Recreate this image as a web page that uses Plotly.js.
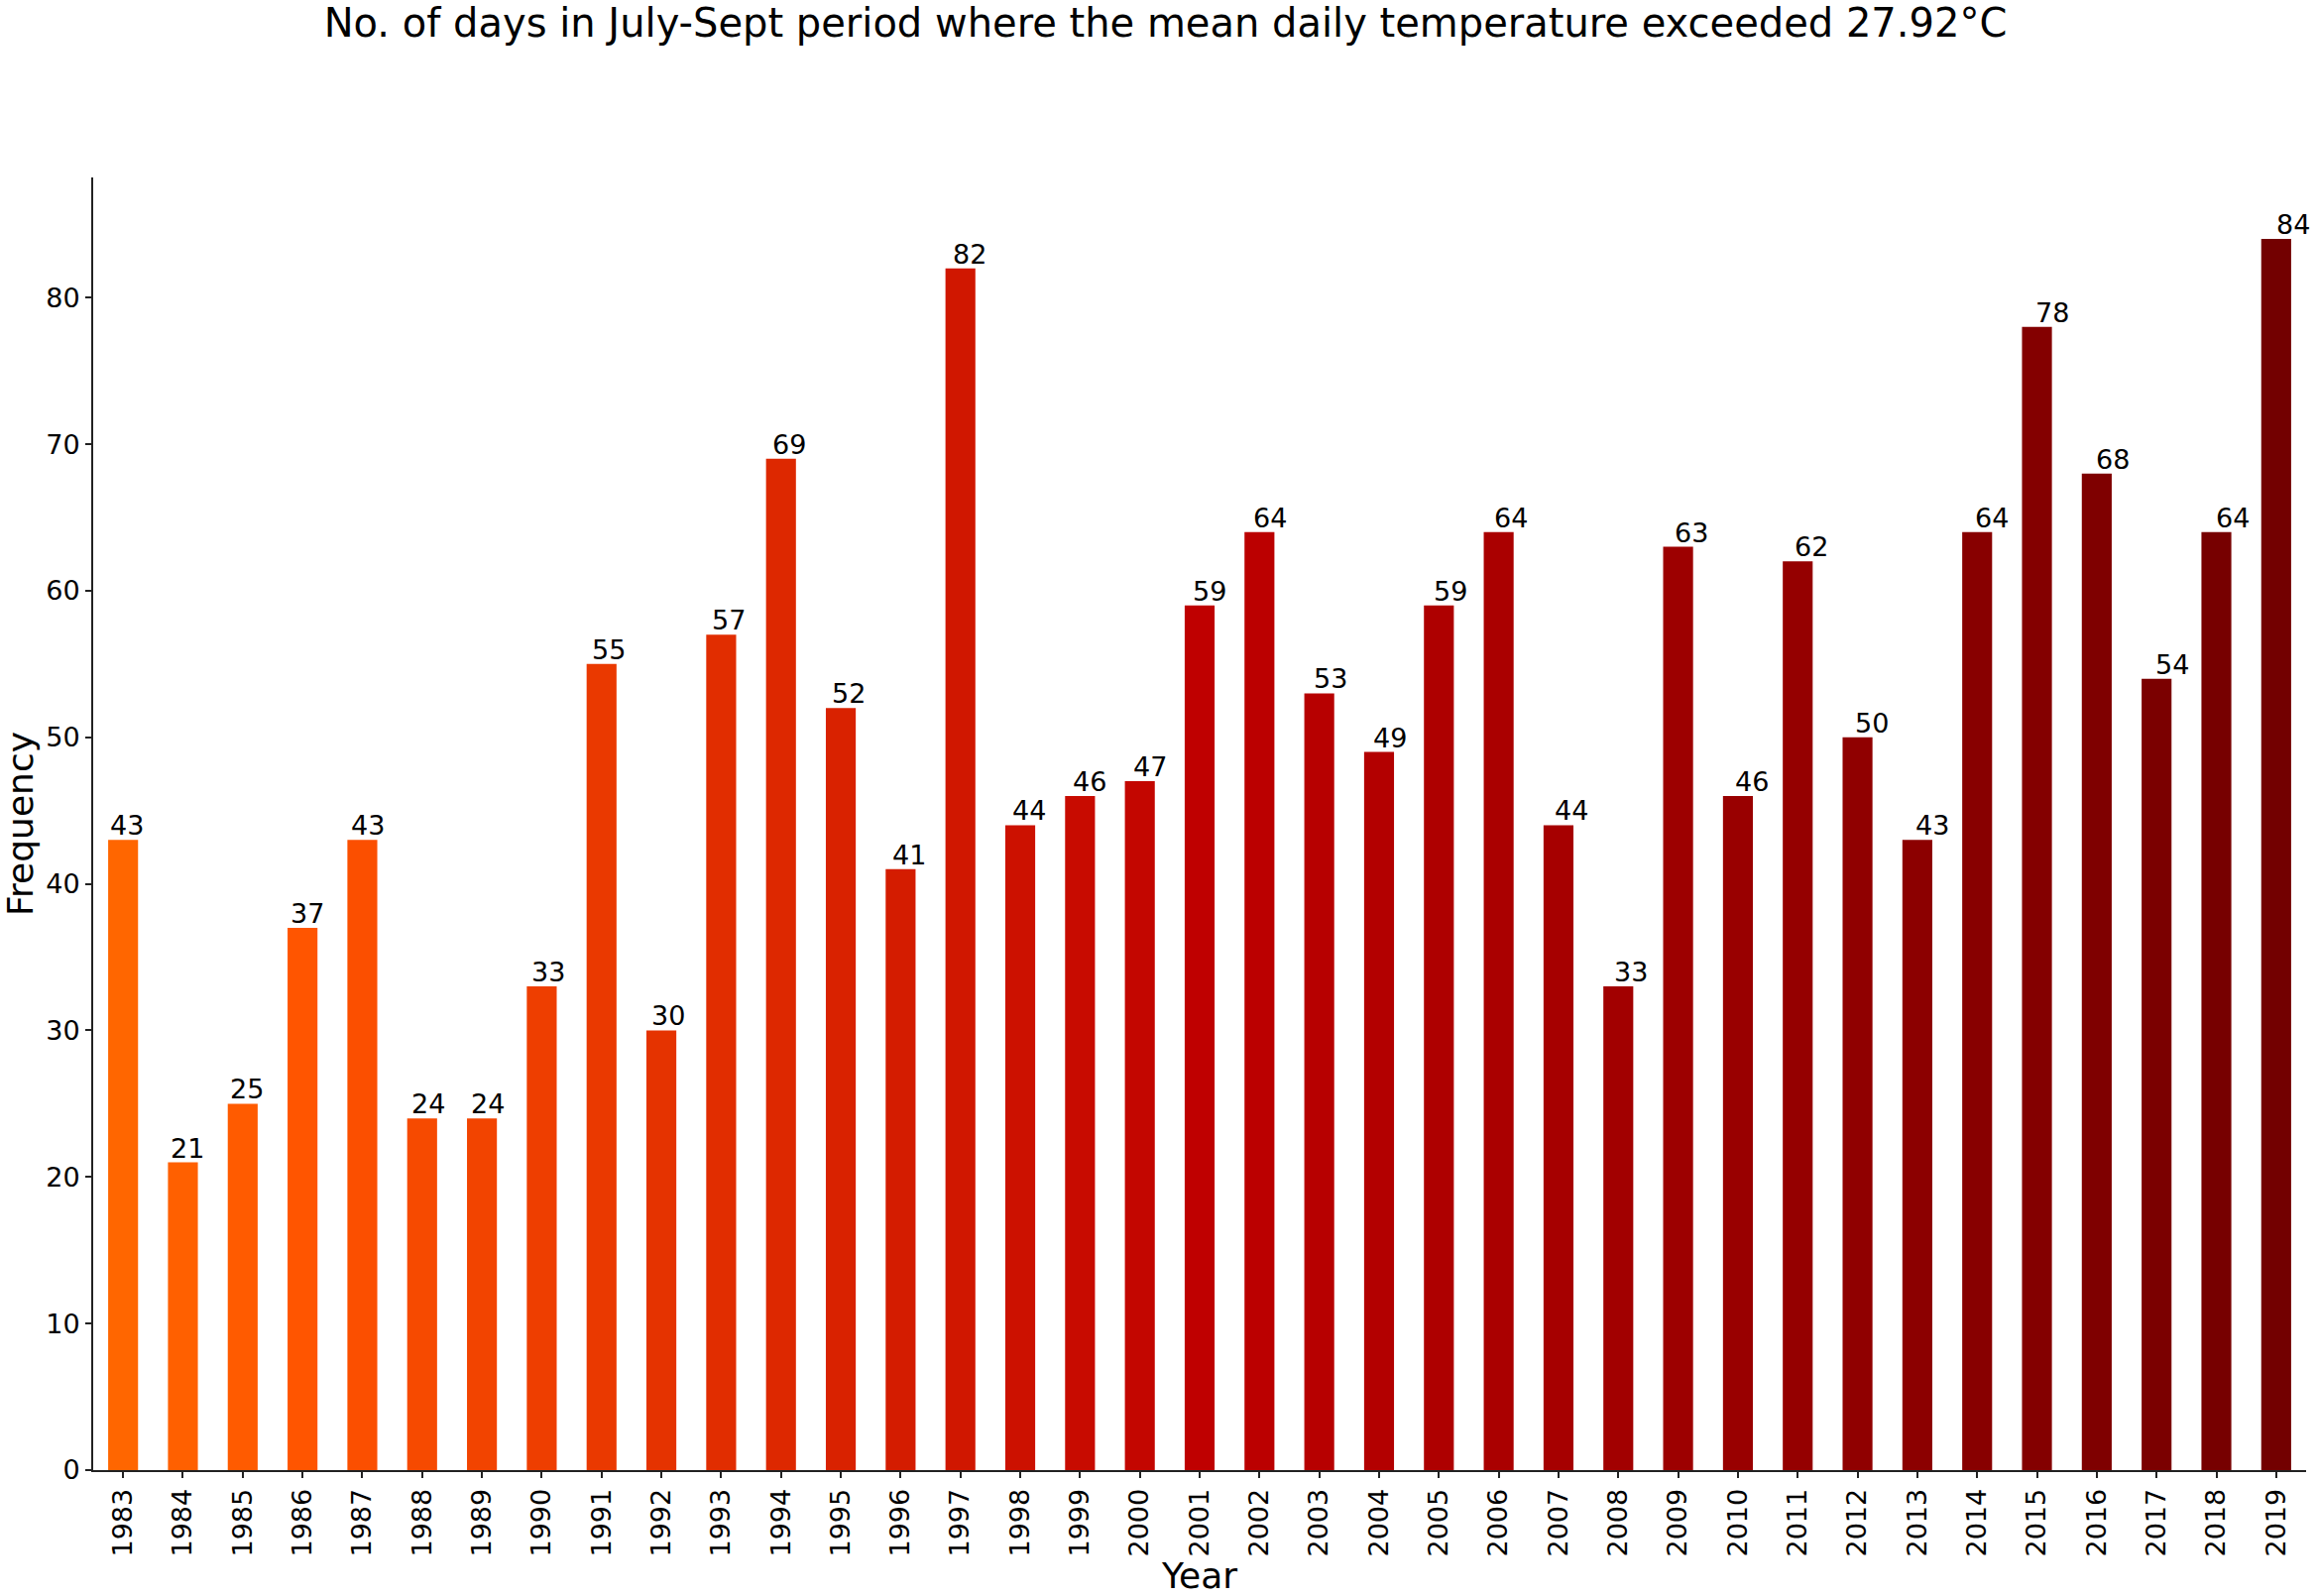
<!DOCTYPE html>
<html>
<head>
<meta charset="utf-8">
<script src="https://cdn.plot.ly/plotly-3.0.1.min.js"></script>
<style>html,body{margin:0;padding:0;background:#fff;}#chart{width:2337px;height:1610px;}</style>
</head>
<body>
<div id="chart"></div>
<script>
// ---- data ----
const years = [1983,1984,1985,1986,1987,1988,1989,1990,1991,1992,1993,1994,1995,1996,1997,1998,1999,2000,
               2001,2002,2003,2004,2005,2006,2007,2008,2009,2010,2011,2012,2013,2014,2015,2016,2017,2018,2019];
const frequency = [43,21,25,37,43,24,24,33,55,30,57,69,52,41,82,44,46,47,
                   59,64,53,49,59,64,44,33,63,46,62,50,43,64,78,68,54,64,84];
const yTicks = [0,10,20,30,40,50,60,70,80];
const titleText = 'No. of days in July-Sept period where the mean daily temperature exceeded 27.92°C';
const xLabel = 'Year';
const yLabel = 'Frequency';

// ---- colours: gist_heat colormap sampled from 0.7 down to 0.3 ----
function gistHeat(t) {
  const r = Math.max(0, Math.min(1, 1.5 * t));
  const g = Math.max(0, Math.min(1, 2 * t - 1));
  const b = Math.max(0, Math.min(1, 4 * t - 3));
  return 'rgb(' + Math.round(r * 255) + ',' + Math.round(g * 255) + ',' + Math.round(b * 255) + ')';
}
const n = years.length;
const colors = years.map((y, i) => gistHeat(0.7 - 0.4 * i / (n - 1)));

const font = 'DejaVu Sans, sans-serif';

const annotations = years.map((y, i) => ({
  x: y - 0.25 + 0.006 * i,
  y: frequency[i],
  xref: 'x', yref: 'y',
  text: String(frequency[i]),
  showarrow: false,
  xanchor: 'left', yanchor: 'bottom',
  yshift: -3,
  font: {family: font, size: 27, color: '#000'}
}));

const trace = {
  type: 'bar',
  x: years,
  y: frequency,
  width: 0.5,
  marker: {color: colors, line: {width: 0}},
  hoverinfo: 'x+y'
};

const axisColor = '#222';
const layout = {
  width: 2337, height: 1610,
  paper_bgcolor: '#fff', plot_bgcolor: '#fff',
  margin: {l: 94, r: 11, t: 179, b: 127},
  showlegend: false,
  title: {
    text: titleText,
    font: {family: font, size: 40, color: '#000'},
    x: 0.503, xanchor: 'center',
    y: 0.9857, yanchor: 'middle', yref: 'container'
  },
  xaxis: {
    type: 'linear',
    range: [years[0] - 0.5, years[n - 1] + 0.5],
    tickvals: years,
    ticktext: years.map(String),
    tickangle: -90,
    ticks: 'outside', ticklen: 6, tickwidth: 2, tickcolor: axisColor,
    showline: true, linecolor: axisColor, linewidth: 2,
    showgrid: false, zeroline: false,
    tickfont: {family: font, size: 27, color: '#000'},
    title: {text: xLabel, font: {family: font, size: 36, color: '#000'}, standoff: 7}
  },
  yaxis: {
    range: [0, 88.2],
    tickvals: yTicks,
    ticktext: yTicks.map(String),
    ticks: 'outside', ticklen: 6, tickwidth: 2, tickcolor: axisColor,
    showline: true, linecolor: axisColor, linewidth: 2,
    showgrid: false, zeroline: false,
    tickfont: {family: font, size: 27, color: '#000'},
    title: {text: yLabel, font: {family: font, size: 36, color: '#000'}, standoff: 12}
  },
  annotations: annotations
};

Plotly.newPlot('chart', [trace], layout, {displayModeBar: false, staticPlot: true});
</script>
</body>
</html>
